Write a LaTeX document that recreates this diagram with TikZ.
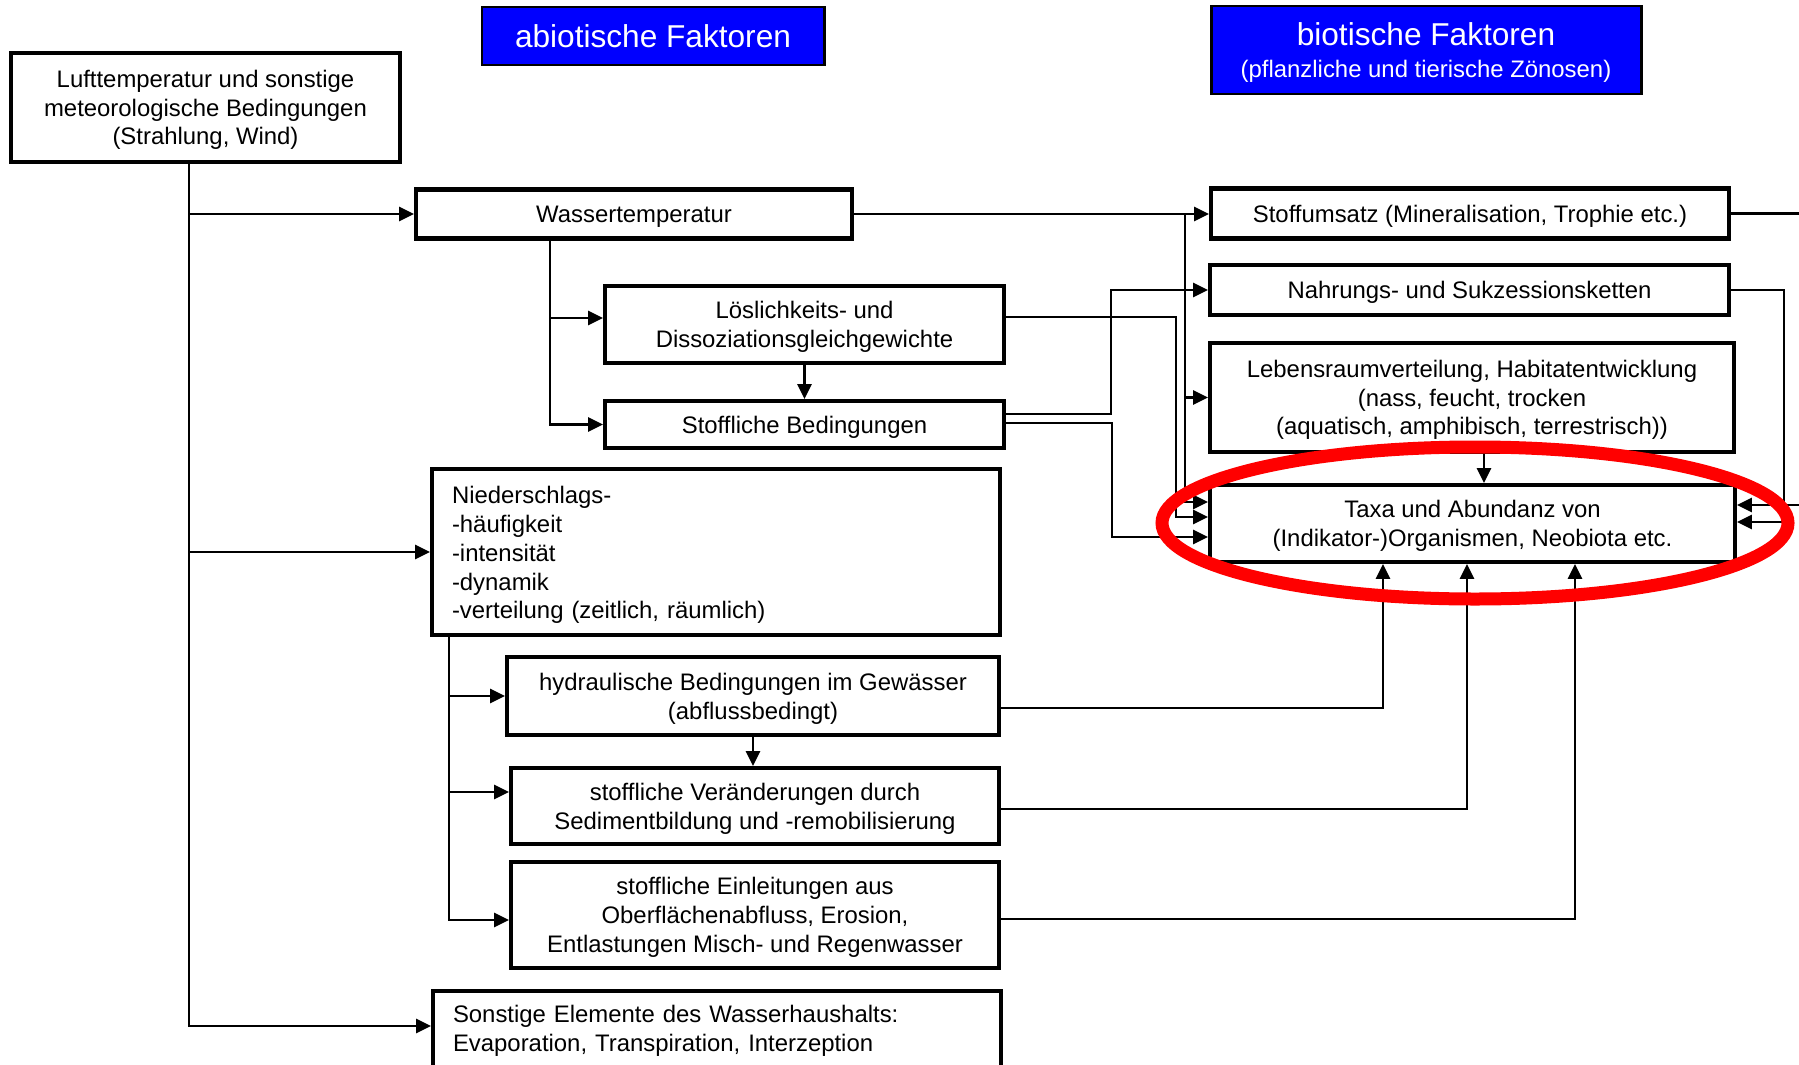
\documentclass[tikz,border=0pt]{standalone}
\usepackage{fontspec}
\setmainfont{Liberation Sans}
\usetikzlibrary{positioning,calc,arrows.meta}
\newlength\px
\setlength\px{0.02cm}

\begin{document}
\begin{tikzpicture}[x=0.02cm,y=-0.02cm,
                    boxbase/.style={draw,line width=2.3pt,inner sep=0pt,align=center,
                                    font=\fontsize{13.6}{16.4}\selectfont},
                    box/.style={boxbase,text depth=-1pt},
                    lbox/.style={boxbase,text width=528\px,align=left,
                                 execute at begin node={\rule{0pt}{13.3pt}}},
                    head/.style={draw,line width=1.7pt,inner sep=0pt,align=center,
                                 fill=blue,text=white,font=\fontsize{13.6}{16.4}\selectfont},
                    conn/.style={line width=1.4pt,-{Triangle[length=8.5pt,width=8pt]}}
                   ]
   \useasboundingbox (0,0) rectangle (1799,1065);

   % headers
   \node[head,minimum width=342\px,minimum height=58\px,font=\fontsize{18}{21}\selectfont] (abio) at (653,36) {abiotische Faktoren};
   \node[head,minimum width=430\px,minimum height=88\px,text depth=-1.7pt] (bio) at (1426,50) {{\fontsize{18}{21}\selectfont biotische Faktoren}\\[2pt](pflanzliche und tierische Zönosen)};

   % abiotic side
   \node[box,minimum width=389\px,minimum height=109\px] (luft) at (205.5,107.5) {Lufttemperatur und sonstige\\meteorologische Bedingungen\\(Strahlung, Wind)};
   \node[box,minimum width=436\px,minimum height=49\px] (wasser) at (634,214) {Wassertemperatur};
   \node[box,minimum width=399\px,minimum height=77\px] (loes) at (804.5,324.5) {Löslichkeits- und\\Dissoziationsgleichgewichte};
   \node[box,minimum width=399\px,minimum height=47\px] (stoffb) at (804.5,424.5) {Stoffliche Bedingungen};
   \node[lbox,minimum width=568\px,minimum height=166\px] (nied) at (716,552) {Niederschlags-\\-häufigkeit\\-intensität\\-dynamik\\-verteilung (zeitlich, räumlich)};
   \node[box,minimum width=492\px,minimum height=78\px] (hydr) at (753,696) {hydraulische Bedingungen im Gewässer\\(abflussbedingt)};
   \node[box,minimum width=488\px,minimum height=76\px] (veraend) at (755,806) {stoffliche Veränderungen durch\\Sedimentbildung und -remobilisierung};
   \node[box,minimum width=488\px,minimum height=106\px] (einl) at (755,915) {stoffliche Einleitungen aus\\Oberflächenabfluss, Erosion,\\Entlastungen Misch- und Regenwasser};
   \node[lbox,anchor=north west,minimum width=568\px,inner ysep=8\px,text depth=80\px] (sonst) at (431,989) {Sonstige Elemente des Wasserhaushalts:\\Evaporation, Transpiration, Interzeption};

   % biotic side
   \node[box,minimum width=518\px,minimum height=50\px] (stoffu) at (1470,213.5) {Stoffumsatz (Mineralisation, Trophie etc.)};
   \node[box,minimum width=519\px,minimum height=50\px] (nahr) at (1469.5,290) {Nahrungs- und Sukzessionsketten};
   \node[box,minimum width=524\px,minimum height=109\px] (lebens) at (1472,397.5) {Lebensraumverteilung, Habitatentwicklung\\(nass, feucht, trocken\\(aquatisch, amphibisch, terrestrisch))};
   \node[box,minimum width=525\px,minimum height=77\px] (taxa) at (1472.5,523.5) {Taxa und Abundanz von\\(Indikator-)Organismen, Neobiota etc.};

   \coordinate (jw) at (1185,214);

   \draw[conn] ([xshift=-16.5\px]luft.south) |- (wasser.west);
   \draw[conn] ([xshift=-16.5\px]luft.south) |- (nied.west);
   \draw[conn] ([xshift=-16.5\px]luft.south) |- ([yshift=-37\px]sonst.north west);

   \draw[conn] (wasser.east) -- (wasser.east -| stoffu.west);
   \draw[conn] (jw) |- (lebens.west);
   \draw[conn] (jw) |- ([yshift=21.5\px]taxa.west);
   \draw[conn] ([xshift=-84\px]wasser.south) |- ([yshift=6.5\px]loes.west);
   \draw[conn] ([xshift=-84\px]wasser.south) |- (stoffb.west);
   \draw[conn] (loes) -- (stoffb);
   \draw[conn] ([yshift=7.5\px]loes.east) -- ++(170,0) |- ([yshift=6.5\px]taxa.west);
   \draw[conn] ([yshift=10.5\px]stoffb.east) -- ++(105,0) |- (nahr.west);
   \draw[conn] ([yshift=1.5\px]stoffb.east) -- ++(106,0) |- ([yshift=-13.5\px]taxa.west);

   \draw[conn] (stoffu.east) -- ++(100,0) |- ([yshift=18.5\px]taxa.east);
   \draw[conn] (nahr.east) -- ++(53,0) |- ([yshift=1.5\px]taxa.east);
   \draw[conn] ([xshift=12\px]lebens.south) -- ([xshift=12\px]lebens.south |- taxa.north);

   \draw[conn] ([xshift=-267\px]nied.south) |- (hydr.west);
   \draw[conn] ([xshift=-267\px]nied.south) |- ([yshift=14\px]veraend.west);
   \draw[conn] ([xshift=-267\px]nied.south) |- ([yshift=-5\px]einl.west);
   \draw[conn] (hydr.south) -- (hydr.south |- veraend.north);
   \draw[conn] ([yshift=-12\px]hydr.east) -| ([xshift=-89.5\px]taxa.south);
   \draw[conn] ([yshift=-3\px]veraend.east) -| ([xshift=-5.5\px]taxa.south);
   \draw[conn] ([yshift=-4\px]einl.east) -| ([xshift=102.5\px]taxa.south);

   \draw[red,line width=7.4pt] (1475,523) ellipse [x radius=313,y radius=76];
\end{tikzpicture}
\end{document}
